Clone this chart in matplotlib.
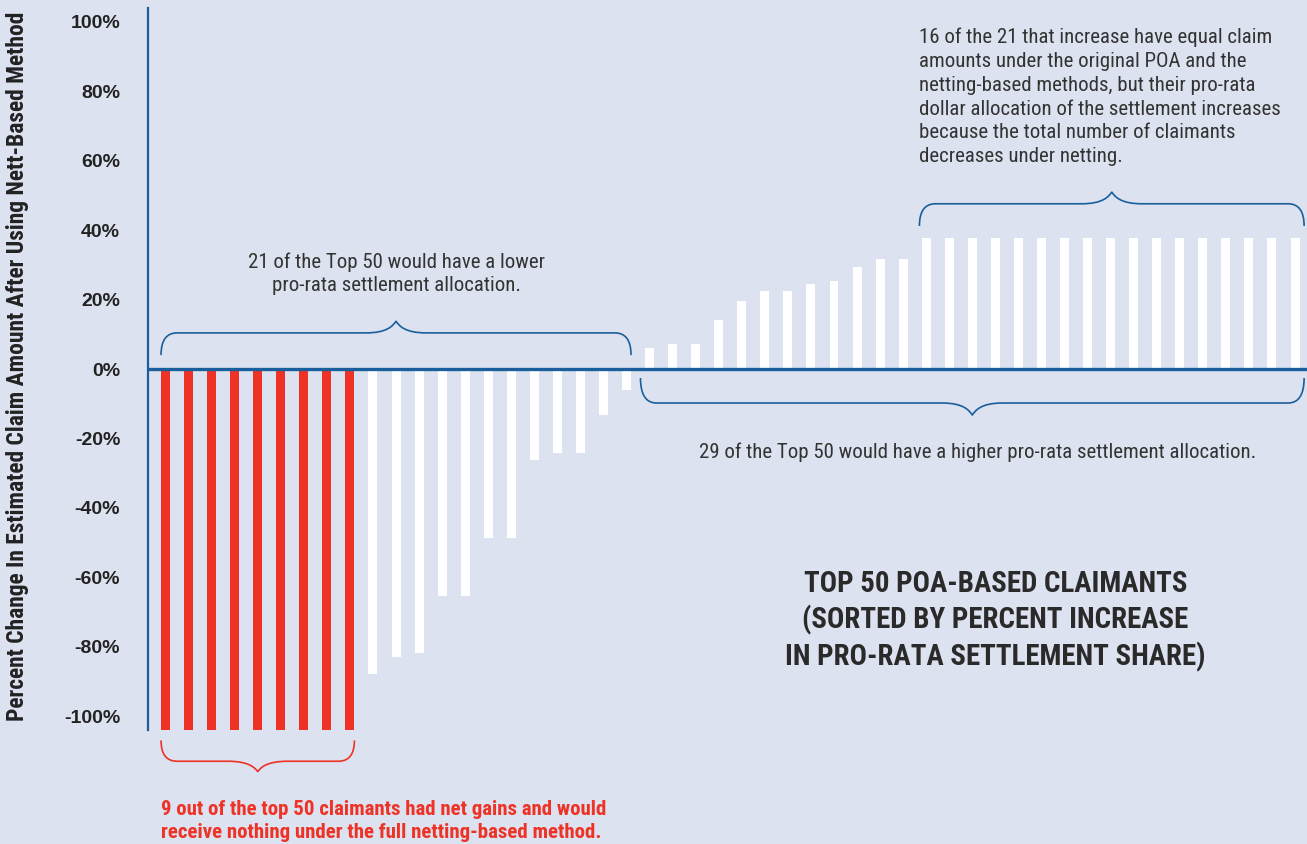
import matplotlib
matplotlib.use("Agg")
import numpy as np
import matplotlib.pyplot as plt
from matplotlib.path import Path
from matplotlib.patches import PathPatch
from matplotlib import font_manager as fm

# datos (% de cambio, ordenado)
cambio_rojo = [-104] * 9
cambio_negativo = [-87.8, -82.9, -81.7, -65.3, -65.3, -48.6, -48.6,
                   -26.1, -24.1, -24.1, -13.2, -6.0]
cambio_positivo = [6.0, 7.3, 7.3, 14.1, 19.6, 22.5, 22.5, 24.5, 25.4,
                   29.4, 31.7, 31.7] + [37.8] * 17
ticks_y = [-100, -80, -60, -40, -20, 0, 20, 40, 60, 80, 100]
tick_labels = [f"{t}%" for t in ticks_y]

FONDO = "#dce2ef"
AZUL = "#1a5f9b"
ROJO = "#ee3226"
TEXTO = "#333333"

# buscar una fuente estrecha instalada
disponibles = {f.name for f in fm.fontManager.ttflist}
preferidas = ["Roboto Condensed", "Archivo Narrow", "PT Sans Narrow",
              "Liberation Sans Narrow", "Fira Sans Condensed",
              "IBM Plex Sans Condensed", "Encode Sans Condensed",
              "Asap Condensed", "Open Sans Condensed"]
NARROW = [n for n in preferidas if n in disponibles][:1] + ["DejaVu Sans"]

valores = cambio_rojo + cambio_negativo + cambio_positivo
x = np.arange(len(valores))
colores = [ROJO] * len(cambio_rojo) + ["white"] * (len(valores) - len(cambio_rojo))
ancho = 0.39

fig = plt.figure(figsize=(13.07, 8.44), dpi=100, facecolor=FONDO)
W, H = 1307, 844
ax = fig.add_axes([148 / W, (H - 730) / H, (W - 148) / W, 722 / H])
ax.set_facecolor(FONDO)
ax.set_xlim(-0.76, 49.52)
ax.set_ylim(-104, 104)

ax.bar(x, valores, width=ancho, color=colores, zorder=2)
ax.axhline(0, color=AZUL, lw=2.4, zorder=3)

for s in ["top", "right", "bottom"]:
    ax.spines[s].set_visible(False)
ax.spines["left"].set_color(AZUL)
ax.spines["left"].set_linewidth(1.6)
ax.set_xticks([])
ax.set_yticks(ticks_y)
ax.set_yticklabels(tick_labels, fontsize=14, fontweight="bold",
                   color="#222222", family="Liberation Sans")
ax.tick_params(axis="y", length=0, pad=20)
ax.set_yticks([0], minor=True)
ax.tick_params(axis="y", which="minor", length=8, width=1.8, color=AZUL)

fig.text(18 / W, 1 - 366 / H,
         "Percent Change In Estimated Claim Amount After Using Nett-Based Method",
         rotation=90, ha="center", va="center", fontsize=16.9,
         fontweight="bold", color="#222222", family=NARROW)

# escala px -> datos
px_x = (49.52 + 0.76) / (W - 148)


def llave(x0, x1, y_fin, y_linea, y_punta, color):
    """Dibuja una llave horizontal entre x0 y x1."""
    xm = (x0 + x1) / 2
    rx = 16 * px_x
    tw = 30 * px_x
    y_med = y_punta + (y_linea - y_punta) * 0.4
    verts = [(x0, y_fin), (x0, y_linea), (x0 + rx, y_linea),
             (xm - tw, y_linea),
             (xm - tw * 0.3, y_linea), (xm - tw * 0.1, y_med), (xm, y_punta),
             (xm + tw * 0.1, y_med), (xm + tw * 0.3, y_linea), (xm + tw, y_linea),
             (x1 - rx, y_linea),
             (x1, y_linea), (x1, y_fin)]
    codes = [Path.MOVETO, Path.CURVE3, Path.CURVE3, Path.LINETO,
             Path.CURVE4, Path.CURVE4, Path.CURVE4,
             Path.CURVE4, Path.CURVE4, Path.CURVE4,
             Path.LINETO, Path.CURVE3, Path.CURVE3]
    ax.add_patch(PathPatch(Path(verts, codes), fill=False, ec=color,
                           lw=1.2, clip_on=False, zorder=4))


n_neg = len(cambio_rojo) + len(cambio_negativo)
n_rojo = len(cambio_rojo)
i_igual = len(valores) - 17

llave(x[0] - ancho / 2, x[n_neg - 1] + ancho / 2, 4.0, 10.4, 13.8, AZUL)
llave(x[n_neg] - ancho / 2 - 0.2, x[-1] + ancho / 2 + 0.2, -2.6, -9.8, -13.3, AZUL)
llave(x[i_igual] - ancho / 2 - 0.1, x[-1] + ancho / 2 + 0.2, 41.2, 47.6, 51.0, AZUL)
llave(x[0] - ancho / 2, x[n_rojo - 1] + ancho / 2, -107, -113, -116, ROJO)

ax.text((x[0] + x[n_neg - 1]) / 2, 27.4,
        "21 of the Top 50 would have a lower\npro-rata settlement allocation.",
        ha="center", va="center", fontsize=15, color=TEXTO, family=NARROW,
        linespacing=1.3)
ax.text(35.25, -23.9,
        "29 of the Top 50 would have a higher pro-rata settlement allocation.",
        ha="center", va="center", fontsize=15, color=TEXTO, family=NARROW)
ax.text(32.7, 78.4,
        "16 of the 21 that increase have equal claim\n"
        "amounts under the original POA and the\n"
        "netting-based methods, but their pro-rata\n"
        "dollar allocation of the settlement increases\n"
        "because the total number of claimants\n"
        "decreases under netting.",
        ha="left", va="center", fontsize=15, color=TEXTO, family=NARROW,
        linespacing=1.32)
ax.text(36.0, -72.5,
        "TOP 50 POA-BASED CLAIMANTS\n(SORTED BY PERCENT INCREASE\nIN PRO-RATA SETTLEMENT SHARE)",
        ha="center", va="center", fontsize=20.8, fontweight="bold",
        color="#2a2a2a", family=NARROW, linespacing=1.3)
ax.text(x[0] - ancho / 2, -130.3,
        "9 out of the top 50 claimants had net gains and would\n"
        "receive nothing under the full netting-based method.",
        ha="left", va="center", fontsize=15, fontweight="bold", color=ROJO,
        family=NARROW, linespacing=1.28)

fig.savefig("out.png", dpi=100, facecolor=FONDO)
